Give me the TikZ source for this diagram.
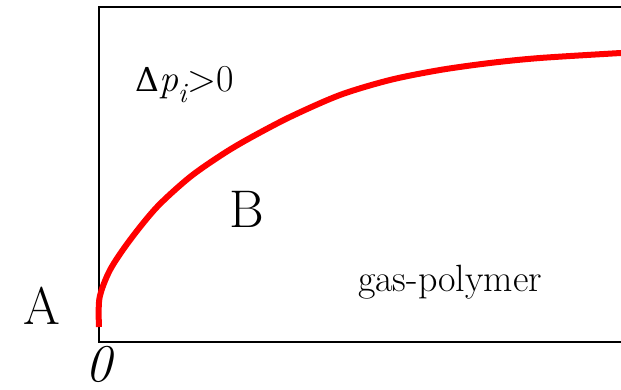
\documentclass[tikz,border=0pt]{standalone}
\usepackage{fontspec}
\newfontfamily\grkfont{DejaVu Serif}
\usepackage{tikz}
\usetikzlibrary{calc}

\newcommand{\subidx}[1]{\raisebox{-0.28em}{\fontsize{28}{30}\selectfont\textit{#1}}}

\begin{document}
\begin{tikzpicture}[
  x=1pt, y=1pt,
  biglbl/.style={font=\fontsize{53}{60}\selectfont, inner sep=0pt, anchor=base},
  smalllbl/.style={font=\fontsize{38}{44}\selectfont, inner sep=0pt, anchor=base},
  frame/.style={line width=2pt, black},
  curve/.style={line width=6pt, red, line join=round}
]
\useasboundingbox (0,0) rectangle (621,390);
% open box (right side runs off the page)
\coordinate (tl) at (98.5,383);
\coordinate (bl) at (98.5,48);
\coordinate (tr) at (621,383);
\coordinate (br) at (621,48);
\draw[frame] (tr) -- (tl) -- (bl) -- (br);
% sorption curve
\draw[curve] plot[smooth, tension=0.5] coordinates {
  (99,63) (99.5,92) (110,120) (130,150) (157,183)
  (190,213) (223,236) (250,252) (290,273) (340,295) (390,310)
  (440,320) (490,327) (540,332) (621,337)};
% labels
\node[smalllbl, anchor=base west] (dp) at (135,298) {{\grkfont\fontsize{33}{40}\selectfont Δ}\textit{p}\subidx{i}>0};
\node[biglbl] (lblB) at (247,162) {B};
\node[smalllbl] (gas) at (450,98) {gas-polymer};
\node[biglbl] (lblA) at (42,65) {A};
\node[biglbl] (zero) at (100,8) {\textit{0}};
\end{tikzpicture}
\end{document}
